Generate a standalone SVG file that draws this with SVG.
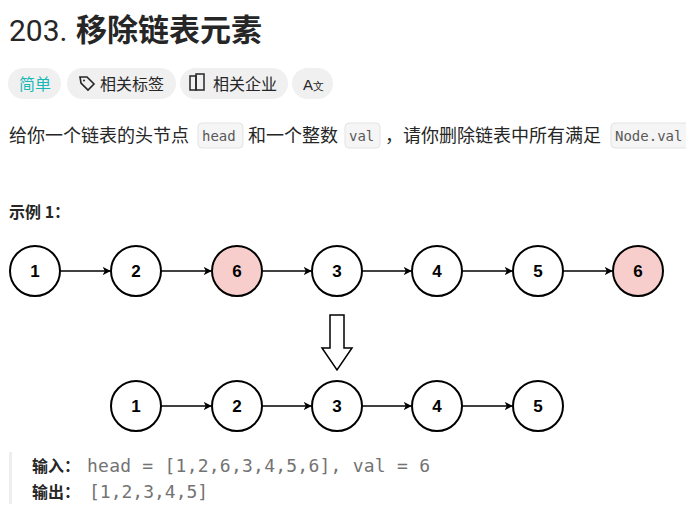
<svg xmlns="http://www.w3.org/2000/svg" width="686" height="520" viewBox="0 0 686 520">
<style>
.cjk{font-family:"Noto Sans CJK SC","Noto Sans",sans-serif}
.mono{font-family:"DejaVu Sans Mono","Liberation Mono",monospace}
.n circle{fill:#fff;stroke:#000;stroke-width:2}
.n.r circle{fill:#f8cecc}
.n text{font-family:"Liberation Sans",Arial,sans-serif;font-size:17px;font-weight:bold;text-anchor:middle}
.pill{fill:#f0f0f0}
.code{fill:#f5f5f5;stroke:#e3e3e3}
.e{stroke:#000;stroke-width:1.5;fill:none;marker-end:url(#a)}
</style>
<defs><marker id="a" viewBox="0 0 10 10" refX="9" refY="5" markerWidth="8" markerHeight="8" orient="auto" markerUnits="userSpaceOnUse"><path d="M0,0L10,5L0,10L2.5,5z" fill="#000"/></marker></defs>
<rect width="686" height="520" fill="#fff"/>
<text x="9" y="41" font-family="Roboto,sans-serif" font-size="30" fill="#262626">203.</text>
<text x="76" y="41" class="cjk" font-size="31" font-weight="bold" fill="#262626">移除链表元素</text>
<rect class="pill" x="8" y="68" width="53" height="31" rx="15.5"/>
<text x="19" y="90" class="cjk" font-size="16" fill="#1cb8b8">简单</text>
<rect class="pill" x="67" y="68" width="109" height="31" rx="15.5"/>
<path d="M80,77 L87,77 L94,84 L88,90 L81,83 Z" fill="none" stroke="#262626" stroke-width="1.6"/>
<circle cx="84" cy="80.5" r="1" fill="#262626"/>
<text x="100" y="90" class="cjk" font-size="16" fill="#262626">相关标签</text>
<rect class="pill" x="180" y="68" width="108" height="31" rx="15.5"/>
<rect x="190" y="76" width="6" height="14" fill="none" stroke="#262626" stroke-width="1.5"/>
<rect x="196" y="74" width="8" height="16" fill="none" stroke="#262626" stroke-width="1.5"/>
<text x="213" y="90" class="cjk" font-size="16" fill="#262626">相关企业</text>
<rect class="pill" x="292" y="68" width="41" height="31" rx="15.5"/>
<text x="303" y="90" font-family="'Liberation Sans',sans-serif" font-size="15" fill="#262626">A<tspan font-size="11">文</tspan></text>
<text x="9" y="142" class="cjk" font-size="18" fill="#262626">给你一个链表的头节点</text>
<rect class="code" x="198" y="123" width="45" height="25" rx="4"/>
<text x="202" y="141" class="mono" font-size="14" fill="#595959">head</text>
<text x="248" y="142" class="cjk" font-size="18" fill="#262626">和一个整数</text>
<rect class="code" x="345" y="123" width="35" height="25" rx="4"/>
<text x="349" y="141" class="mono" font-size="14" fill="#595959">val</text>
<text x="385" y="142" class="cjk" font-size="18" fill="#262626">，请你删除链表中所有满足</text>
<rect class="code" x="611" y="123" width="90" height="25" rx="4"/>
<text x="615" y="141" class="mono" font-size="14" fill="#595959">Node.val</text>
<text x="9" y="218" class="cjk" font-size="16" font-weight="bold" fill="#262626">示例 1：</text>
<g id="edges">
<line class="e" x1="60" y1="271" x2="110" y2="271"/>
<line class="e" x1="161" y1="271" x2="211" y2="271"/>
<line class="e" x1="262" y1="271" x2="311" y2="271"/>
<line class="e" x1="362" y1="271" x2="411" y2="271"/>
<line class="e" x1="462" y1="271" x2="512" y2="271"/>
<line class="e" x1="563" y1="271" x2="612" y2="271"/>
<line class="e" x1="161" y1="406" x2="211" y2="406"/>
<line class="e" x1="262" y1="406" x2="311" y2="406"/>
<line class="e" x1="362" y1="406" x2="411" y2="406"/>
<line class="e" x1="462" y1="406" x2="512" y2="406"/>
</g>
<g id="down"><path d="M330,315 L344,315 L344,348 L352,348 L337,370 L322,348 L330,348 Z" fill="#fff" stroke="#000" stroke-width="1.5"/></g>
<g id="n1" class="n"><circle cx="35" cy="271" r="25"/><text x="35" y="277">1</text></g>
<g id="n2" class="n"><circle cx="136" cy="271" r="25"/><text x="136" y="277">2</text></g>
<g id="n3" class="n r"><circle cx="237" cy="271" r="25"/><text x="237" y="277">6</text></g>
<g id="n4" class="n"><circle cx="337" cy="271" r="25"/><text x="337" y="277">3</text></g>
<g id="n5" class="n"><circle cx="437" cy="271" r="25"/><text x="437" y="277">4</text></g>
<g id="n6" class="n"><circle cx="538" cy="271" r="25"/><text x="538" y="277">5</text></g>
<g id="n7" class="n r"><circle cx="638" cy="271" r="25"/><text x="638" y="277">6</text></g>
<g id="m1" class="n"><circle cx="136" cy="406" r="25"/><text x="136" y="412">1</text></g>
<g id="m2" class="n"><circle cx="237" cy="406" r="25"/><text x="237" y="412">2</text></g>
<g id="m3" class="n"><circle cx="337" cy="406" r="25"/><text x="337" y="412">3</text></g>
<g id="m4" class="n"><circle cx="437" cy="406" r="25"/><text x="437" y="412">4</text></g>
<g id="m5" class="n"><circle cx="538" cy="406" r="25"/><text x="538" y="412">5</text></g>
<rect x="9" y="452" width="3" height="52" fill="#eeeeee"/>
<text x="32" y="472" class="cjk" font-size="16" font-weight="bold" fill="#262626">输入：</text>
<text x="87" y="472" class="mono" font-size="18" fill="#737373" textLength="343">head = [1,2,6,3,4,5,6], val = 6</text>
<text x="32" y="498" class="cjk" font-size="16" font-weight="bold" fill="#262626">输出：</text>
<text x="89" y="498" class="mono" font-size="18" fill="#737373">[1,2,3,4,5]</text>
</svg>
